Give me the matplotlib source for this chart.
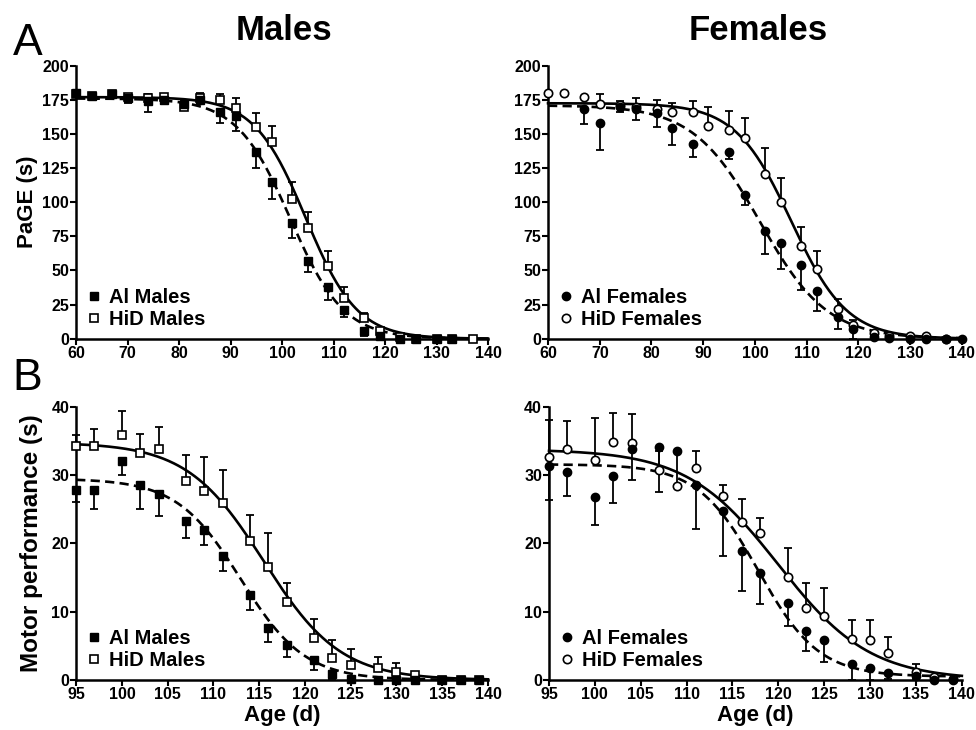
import numpy as np
import matplotlib
matplotlib.use("Agg")
import matplotlib.pyplot as plt

plt.rcParams['font.family'] = ['Liberation Sans', 'DejaVu Sans']
plt.rcParams['font.weight'] = 'bold'
plt.rcParams['axes.labelweight'] = 'bold'

# ---- PaGE, males ----
m_page_days_al = [60, 63, 67, 70, 74, 77, 81, 84, 88, 91, 95, 98, 102, 105, 109, 112, 116, 119, 123, 126, 130, 133]
m_page_al = [180, 178, 179, 176, 174, 175, 172, 175, 166, 163, 137, 115, 85, 57, 38, 21, 6, 2, 0, 0, 0, 0]
m_page_al_err = [0, 1, 1, 3, 8, 3, 3, 2, 8, 11, 12, 13, 11, 8, 10, 5, 4, 2, 0, 0, 0, 0]
m_page_days_hid = [60, 63, 67, 70, 74, 77, 81, 84, 88, 91, 95, 98, 102, 105, 109, 112, 116, 119, 123, 126, 130, 133, 137]
m_page_hid = [179, 178, 179, 177, 176, 177, 170, 176, 175, 169, 155, 144, 102, 81, 53, 30, 15, 6, 1, 0, 0, 0, 0]
m_page_hid_err = [0, 1, 1, 2, 3, 2, 2, 4, 4, 7, 10, 12, 13, 12, 11, 8, 4, 2, 1, 0, 0, 0, 0]
# fitted Boltzmann parameters: top, bottom, V50, slope
m_page_fit_al = [176, 0, 101.6, 5.2]
m_page_fit_hid = [177, 0, 104.6, 5.0]

# ---- PaGE, females ----
f_page_days_al = [67, 70, 74, 77, 81, 84, 88, 95, 98, 102, 105, 109, 112, 116, 119, 123, 126, 130, 133, 137, 140]
f_page_al = [168, 158, 170, 168, 165, 154, 143, 137, 105, 79, 70, 54, 35, 16, 7, 1, 0.5, 0, 0, 0, 0]
f_page_al_err = [11, 20, 4, 8, 10, 12, 10, 5, 7, 17, 19, 18, 15, 9, 7, 1, 0, 0, 0, 0, 0]
f_page_days_hid = [60, 63, 67, 70, 74, 77, 81, 84, 88, 91, 95, 98, 102, 105, 109, 112, 116, 119, 123, 126, 130, 133, 137]
f_page_hid = [180, 180, 177, 172, 171, 170, 168, 166, 166, 156, 153, 147, 121, 100, 68, 51, 22, 10, 4, 2, 2, 2, 0]
f_page_hid_err = [0, 0, 0, 7, 3, 6, 7, 7, 8, 14, 14, 15, 19, 18, 14, 13, 7, 4, 1, 1, 0, 0, 0]
f_page_fit_al = [171, 0, 101.0, 6.5]
f_page_fit_hid = [172.5, 0, 107.0, 5.4]

# ---- Motor performance ----
motor_days = [95, 97, 100, 102, 104, 107, 109, 111, 114, 116, 118, 121, 123, 125, 128, 130, 132, 135, 137, 139]
m_motor_al = [27.9, 27.8, 32.1, 28.5, 27.3, 23.3, 22.0, 18.1, 12.5, 7.6, 5.1, 2.9, 0.9, 0.1, 0, 0, 0, 0, 0, 0]
m_motor_al_err = [1.8, 2.7, 2.0, 3.4, 3.2, 2.5, 2.2, 2.2, 2.2, 2.1, 1.8, 1.4, 0.8, 0.3, 0, 0, 0, 0, 0, 0]
m_motor_hid = [34.3, 34.3, 35.9, 33.2, 33.9, 29.2, 27.7, 25.9, 20.3, 16.6, 11.4, 6.1, 3.2, 2.2, 1.7, 1.1, 0.7, 0, 0, 0]
m_motor_hid_err = [1.6, 2.4, 3.5, 2.9, 3.2, 3.8, 4.9, 4.9, 3.9, 4.9, 2.8, 2.8, 2.7, 2.4, 1.7, 1.4, 0.4, 0, 0, 0]
m_motor_fit_al = [29.5, 0, 113.0, 3.5]
m_motor_fit_hid = [34.8, 0, 115.5, 4.2]

f_motor_al = [31.3, 30.5, 26.8, 29.9, 33.8, 34.2, 33.5, 28.6, 24.7, 18.9, 15.7, 11.3, 7.2, 5.8, 2.3, 1.7, 1.0, 0.6, 0, 0]
f_motor_al_err = [5.0, 3.6, 4.1, 3.9, 4.5, 6.7, 5.0, 6.5, 6.5, 5.9, 4.5, 3.4, 2.9, 3.1, 2.3, 1.7, 0.8, 0.4, 0, 0]
f_motor_hid = [32.6, 33.9, 32.3, 34.9, 34.7, 30.7, 28.4, 31.0, 27.0, 23.2, 21.6, 15.1, 10.6, 9.4, 6.0, 5.9, 4.0, 1.1, 0.4, 0.1]
f_motor_hid_err = [5.5, 4.1, 6.1, 4.2, 4.3, 2.8, 0, 2.6, 1.5, 3.3, 2.1, 4.2, 3.6, 4.1, 2.8, 2.9, 2.3, 1.2, 0, 0]
f_motor_fit_al = [31.6, 0.5, 117.8, 3.3]
f_motor_fit_hid = [33.8, 0, 120.0, 5.0]


def boltzmann(x, p):
    top, bottom, v50, slope = p
    return bottom + (top - bottom) / (1 + np.exp((x - v50) / slope))


def panel(ax, days_al, al, al_err, days_hid, hid, hid_err, fit_al, fit_hid,
          marker, labels, xlim, xstep, ylim, ystep):
    xs = np.linspace(xlim[0], xlim[1], 300)
    ax.plot(xs, boltzmann(xs, fit_al), color='k', lw=1.9, ls=(0, (3.5, 2)), zorder=2, clip_on=False)
    ax.plot(xs, boltzmann(xs, fit_hid), color='k', lw=1.9, zorder=2, clip_on=False)
    z_al = np.zeros(len(al_err))
    z_hid = np.zeros(len(hid_err))
    ax.errorbar(days_al, al, yerr=[al_err, z_al], fmt='none', ecolor='k',
                elinewidth=1.3, capsize=3, capthick=1.3, zorder=3, clip_on=False)
    ax.errorbar(days_hid, hid, yerr=[z_hid, hid_err], fmt='none', ecolor='k',
                elinewidth=1.3, capsize=3, capthick=1.3, zorder=3, clip_on=False)
    h1, = ax.plot(days_al, al, ls='none', marker=marker, ms=6, mfc='k', mec='k',
                  zorder=5, clip_on=False)
    h2, = ax.plot(days_hid, hid, ls='none', marker=marker, ms=6, mfc='white', mec='k',
                  mew=1.2, zorder=4, clip_on=False)
    ax.set_xlim(xlim)
    ax.set_ylim(ylim)
    ax.set_xticks(np.arange(xlim[0], xlim[1] + 1, xstep))
    ax.set_yticks(np.arange(ylim[0], ylim[1] + 1, ystep))
    for s in ['top', 'right']:
        ax.spines[s].set_visible(False)
    for s in ['left', 'bottom']:
        ax.spines[s].set_linewidth(1.8)
    ax.tick_params(direction='out', length=4, width=1.5, labelsize=11.5, pad=1)
    for t in ax.get_xticklabels() + ax.get_yticklabels():
        t.set_fontweight('bold')
    ax.legend([h1, h2], labels, loc='lower left', bbox_to_anchor=(-0.005, -0.015),
              frameon=False, prop={'size': 14.5, 'weight': 'bold'},
              handlelength=0.6, handletextpad=0.45, labelspacing=0.15, borderaxespad=0.3)


fig = plt.figure(figsize=(9.76, 7.30), dpi=100)
ax1 = fig.add_axes([0.078, 0.536, 0.422, 0.374])
ax2 = fig.add_axes([0.5615, 0.536, 0.424, 0.374])
ax3 = fig.add_axes([0.078, 0.0685, 0.422, 0.374])
ax4 = fig.add_axes([0.5625, 0.0685, 0.423, 0.374])

panel(ax1, m_page_days_al, m_page_al, m_page_al_err, m_page_days_hid, m_page_hid, m_page_hid_err,
      m_page_fit_al, m_page_fit_hid, 's', ['Al Males', 'HiD Males'], (60, 140), 10, (0, 200), 25)
panel(ax2, f_page_days_al, f_page_al, f_page_al_err, f_page_days_hid, f_page_hid, f_page_hid_err,
      f_page_fit_al, f_page_fit_hid, 'o', ['Al Females', 'HiD Females'], (60, 140), 10, (0, 200), 25)
panel(ax3, motor_days, m_motor_al, m_motor_al_err, motor_days, m_motor_hid, m_motor_hid_err,
      m_motor_fit_al, m_motor_fit_hid, 's', ['Al Males', 'HiD Males'], (95, 140), 5, (0, 40), 10)
panel(ax4, motor_days, f_motor_al, f_motor_al_err, motor_days, f_motor_hid, f_motor_hid_err,
      f_motor_fit_al, f_motor_fit_hid, 'o', ['Al Females', 'HiD Females'], (95, 140), 5, (0, 40), 10)

ax1.set_ylabel('PaGE (s)', fontsize=16, fontweight='bold', labelpad=3)
ax3.set_ylabel('Motor performance (s)', fontsize=17.5, fontweight='bold', labelpad=6)
ax3.set_xlabel('Age (d)', fontsize=16, fontweight='bold', labelpad=2)
ax4.set_xlabel('Age (d)', fontsize=16, fontweight='bold', labelpad=2)

fig.text(0.291, 0.958, 'Males', fontsize=25, fontweight='bold', ha='center', va='center')
fig.text(0.777, 0.958, 'Females', fontsize=25, fontweight='bold', ha='center', va='center')
fig.text(0.028, 0.94, 'A', fontsize=32, fontweight='normal', ha='center', va='center')
fig.text(0.028, 0.482, 'B', fontsize=32, fontweight='normal', ha='center', va='center')

fig.savefig('out.png', dpi=100)
